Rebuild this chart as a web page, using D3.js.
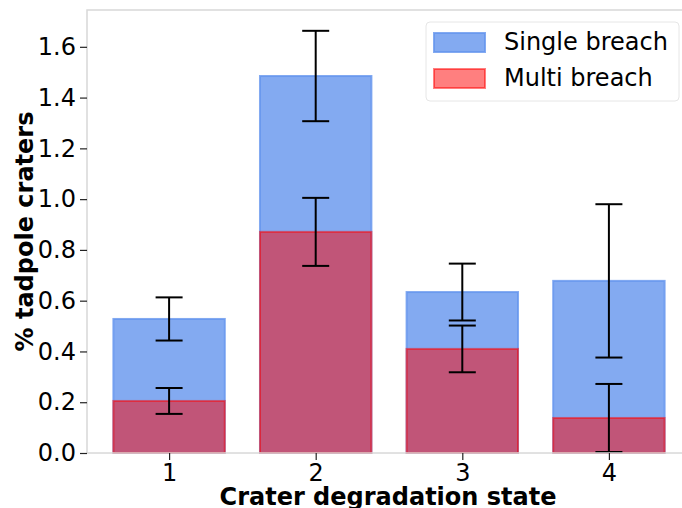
<!DOCTYPE html>
<html>
<head>
<meta charset="utf-8">
<script src="https://cdn.jsdelivr.net/npm/d3@7"></script>
<style>
  body { margin: 0; background: #fff; }
  text { font-family: "DejaVu Sans", sans-serif; fill: #000; }
</style>
</head>
<body>
<svg class="chart"></svg>
<script>
// Values.
var states = [1, 2, 3, 4];
var singleMean = [0.528, 1.485, 0.634, 0.678];
var singleErr = [0.085, 0.178, 0.112, 0.302];
var multiMean = [0.205, 0.871, 0.410, 0.138];
var multiErr = [0.051, 0.134, 0.092, 0.134];
var yTicks = [0.0, 0.2, 0.4, 0.6, 0.8, 1.0, 1.2, 1.4, 1.6];
var seriesNames = ["Single breach", "Multi breach"];

var width = 682, height = 508;
var margin = { left: 87, top: 10, right: -9, bottom: 55 };
var barWidth = 0.76;

var svg = d3.select("svg.chart")
    .attr("width", width)
    .attr("height", height);

var x = d3.scaleLinear() // Numeric x so bar widths can be given in data units.
    .domain([0.44, 4.56])
    .range([margin.left, width - margin.right]);

var y = d3.scaleLinear()
    .domain([0, 1.745])
    .range([height - margin.bottom, margin.top]);

function drawBars (means, fill, fillOpacity) {
    svg.append("g")
        .selectAll("rect")
        .data(means)
        .enter()
            .append("rect")
            .attr("x", (d, i) => x(states[i] - barWidth / 2))
            .attr("width", x(barWidth) - x(0))
            .attr("y", d => y(d))
            .attr("height", d => y(0) - y(d))
            .attr("fill", fill)
            .attr("fill-opacity", fillOpacity)
            .attr("stroke", fill)
            .attr("stroke-opacity", fillOpacity)
            .attr("stroke-width", 2);
}

function drawErrors (means, errs) {
    var g = svg.append("g")
        .attr("stroke", "#000")
        .attr("stroke-width", 2);
    means.forEach(function (m, i) {
        var cx = x(states[i]);
        var lo = Math.max(0, m - errs[i]), hi = m + errs[i];
        g.append("line").attr("x1", cx).attr("x2", cx).attr("y1", y(lo)).attr("y2", y(hi));
        [lo, hi].forEach(function (v) {
            g.append("line").attr("x1", cx - 13.5).attr("x2", cx + 13.5).attr("y1", y(v)).attr("y2", y(v));
        });
    });
}

drawBars(singleMean, "cornflowerblue", 0.8);
drawBars(multiMean, "red", 0.5);
drawErrors(singleMean, singleErr);
drawErrors(multiMean, multiErr);

// Spines, light grey.
svg.append("rect")
    .attr("x", x.range()[0])
    .attr("y", margin.top)
    .attr("width", x.range()[1] - x.range()[0])
    .attr("height", y(0) - margin.top)
    .attr("fill", "none")
    .attr("stroke", "#d8d8d8")
    .attr("stroke-width", 1.5);

var yAxis = svg.append("g")
    .attr("transform", "translate(" + margin.left + ",0)")
    .call(d3.axisLeft(y).tickValues(yTicks).tickFormat(d3.format(".1f")).tickSize(7).tickPadding(4));

var xAxis = svg.append("g")
    .attr("transform", "translate(0," + y(0) + ")")
    .call(d3.axisBottom(x).tickValues(states).tickFormat(d3.format("d")).tickSize(7).tickPadding(4));

[yAxis, xAxis].forEach(function (a) {
    a.select(".domain").remove();
    a.selectAll(".tick line").attr("stroke", "#222").attr("stroke-width", 1.2);
    a.selectAll(".tick text").attr("font-size", 24).attr("font-family", "DejaVu Sans");
});

svg.append("text")
    .attr("transform", "translate(24.5," + ((margin.top + y(0)) / 2) + ") rotate(-90)")
    .attr("text-anchor", "middle")
    .attr("dy", "0.35em")
    .attr("font-size", 24)
    .attr("font-weight", "bold")
    .text("% tadpole craters");

svg.append("text")
    .attr("x", 388)
    .attr("y", 504.5)
    .attr("text-anchor", "middle")
    .attr("font-size", 24)
    .attr("font-weight", "bold")
    .text("Crater degradation state");

// Legend.
var legend = svg.append("g").attr("transform", "translate(426,22)");
legend.append("rect")
    .attr("width", 253).attr("height", 79).attr("rx", 4)
    .attr("fill", "#fff").attr("fill-opacity", 0.8)
    .attr("stroke", "#e6e6e6").attr("stroke-width", 1);
var legendFills = [["cornflowerblue", 0.8], ["red", 0.5]];
seriesNames.forEach(function (name, i) {
    var row = legend.append("g").attr("transform", "translate(0," + (i * 36) + ")");
    row.append("rect")
        .attr("x", 8).attr("y", 11).attr("width", 51).attr("height", 19)
        .attr("fill", legendFills[i][0]).attr("fill-opacity", legendFills[i][1])
        .attr("stroke", legendFills[i][0]).attr("stroke-opacity", legendFills[i][1])
        .attr("stroke-width", 2);
    row.append("text")
        .attr("x", 78).attr("y", 20).attr("dy", "0.35em")
        .attr("font-size", 24)
        .text(name);
});
</script>
</body>
</html>
